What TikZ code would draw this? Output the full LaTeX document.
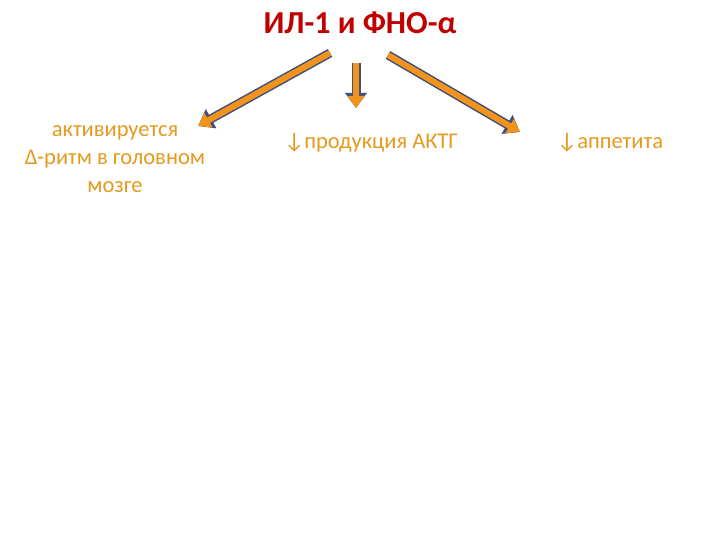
\documentclass[tikz,border=0pt]{standalone}
\usepackage{fontspec}
\setmainfont{Carlito}
\usetikzlibrary{arrows.meta}
\definecolor{titlered}{RGB}{192,0,0}
\definecolor{txtorange}{RGB}{228,154,30}
\definecolor{arrfill}{RGB}{242,148,28}
\definecolor{arredge}{RGB}{64,80,125}
\newcommand{\dn}{{\char"2193}}
\tikzset{
    lbl/.style={text=txtorange, font=\fontsize{22.5}{28}\selectfont, inner sep=0pt, align=center},
    fatarrow/.style={draw=arrfill, line width=6pt, -{Triangle[length=12pt,width=16pt]},
        preaction={draw=arredge, line width=9pt, -{Triangle[length=15pt,width=21pt]}}}
}
\begin{document}
\begin{tikzpicture}[x=1pt,y=-1pt]
    \useasboundingbox (0,0) rectangle (720,540);
    \node[text=titlered, font=\fontsize{32}{36}\bfseries, inner sep=0pt] (title) at (360,23) {ИЛ-1 и ФНО-α};

    \node[lbl] (brain) at (115,159) {активируется\\Δ-ритм в головном\\мозге};
    \node[lbl] (acth) at (371,143) {\dn продукция АКТГ};
    \node[lbl] (appetite) at (610,143) {\dn аппетита};

    \draw[fatarrow] ([xshift=-30pt,yshift=-30pt]title.center) -- ([xshift=83pt,yshift=33pt]brain.center);
    \draw[fatarrow] ([xshift=-4pt,yshift=-40pt]title.center) -- ([xshift=-15pt,yshift=35pt]acth.center);
    \draw[fatarrow] ([xshift=28pt,yshift=-32pt]title.center) -- ([xshift=-90pt,yshift=11pt]appetite.center);
\end{tikzpicture}
\end{document}
